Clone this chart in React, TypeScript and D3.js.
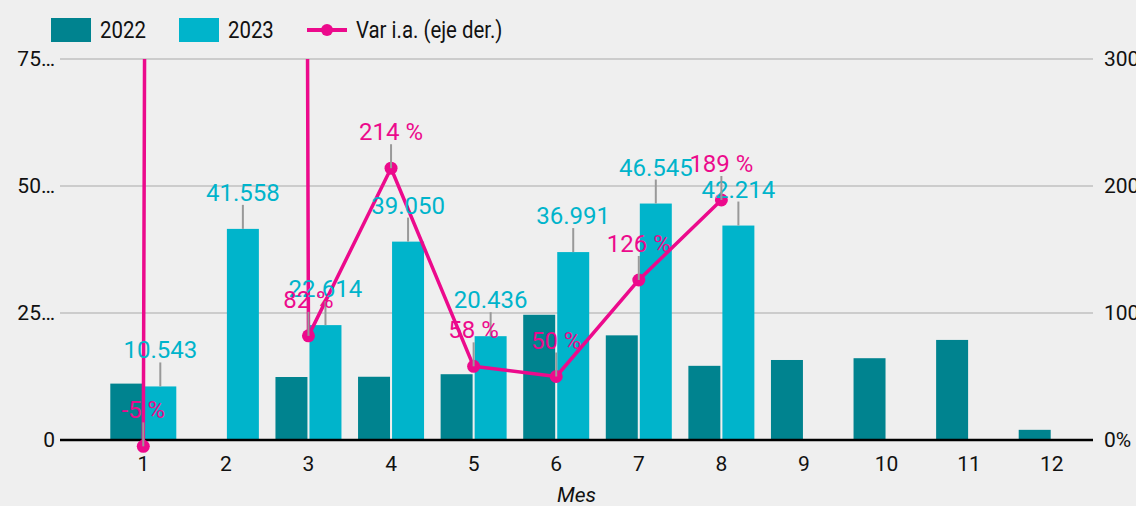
import React from "react";
import * as d3 from "d3";

const months = ["1", "2", "3", "4", "5", "6", "7", "8", "9", "10", "11", "12"];
const values2022: (number | null)[] = [11100, null, 12400, 12450, 12950, 24650, 20600, 14600, 15750, 16100, 19700, 2000];
const values2023: (number | null)[] = [10543, 41558, 22614, 39050, 20436, 36991, 46545, 42214, null, null, null, null];
const varIA: (number | null)[] = [-5, 20000, 82, 214, 58, 50, 126, 189, null, null, null, null];
const leftTicks = [0, 25000, 50000, 75000];
const leftTickLabels = ["0", "25…", "50…", "75…"];
const rightTicks = [0, 100, 200, 300];
const rightTickLabels = ["0%", "100%", "200%", "300%"];
const seriesNames = ["2022", "2023"];

const W = 1136;
const H = 506;
const C2022 = "#00838f";
const C2023 = "#00b4cb";
const CLINE = "#ec0a8c";
const BG = "#efefef";
const FONT = "Roboto, 'Noto Sans', sans-serif";

const locale = d3.formatLocale({ decimal: ",", thousands: ".", grouping: [3], currency: ["", ""] });
const fmt = locale.format(",d");

export default function App() {
  const gridLeft = 60;
  const gridRight = 1093;
  const top = 59;
  const base = 440;

  const x = d3.scaleBand<string>().domain(months).range([102, 1093]).padding(0);
  const sub = d3.scaleBand<string>().domain(seriesNames).range([-33, 33]).paddingInner(0.06);
  const yL = d3.scaleLinear().domain([0, 75000]).range([base, top]);
  const yR = d3.scaleLinear().domain([0, 300]).range([base, top]);
  const cx = (m: string) => (x(m) as number) + x.bandwidth() / 2;

  const linePts: [number, number][] = [];
  varIA.forEach((v, i) => {
    if (v != null) linePts.push([cx(months[i]), yR(v)]);
  });
  const linePath = d3.line()(linePts) || "";

  const bars: React.ReactNode[] = [];
  [values2022, values2023].forEach((arr, si) => {
    arr.forEach((v, i) => {
      if (v == null) return;
      const bx = cx(months[i]) + (sub(seriesNames[si]) as number);
      bars.push(
        <rect key={`b${si}-${i}`} x={bx} y={yL(v)} width={sub.bandwidth()} height={base - yL(v)} fill={si === 0 ? C2022 : C2023} />
      );
    });
  });

  const valueLabels: React.ReactNode[] = [];
  values2023.forEach((v, i) => {
    if (v == null) return;
    const bx = cx(months[i]) + (sub("2023") as number) + sub.bandwidth() / 2;
    const yt = yL(v);
    valueLabels.push(
      <g key={`vl${i}`}>
        <line x1={bx} x2={bx} y1={yt} y2={yt - 24} stroke="#999" strokeWidth={2} />
        <text x={bx} y={yt - 28} textAnchor="middle" fill={C2023} fontSize={24} fontFamily={FONT}>
          {fmt(v)}
        </text>
      </g>
    );
  });

  const varLabels: React.ReactNode[] = [];
  varIA.forEach((v, i) => {
    if (v == null) return;
    const px = cx(months[i]);
    const py = yR(v);
    varLabels.push(
      <g key={`vr${i}`}>
        <line x1={px} x2={px} y1={py} y2={py - 24} stroke="#999" strokeWidth={2} />
        <text x={px} y={py - 28} textAnchor="middle" fill={CLINE} fontSize={24} fontFamily={FONT}>
          {`${v} %`}
        </text>
      </g>
    );
  });

  return (
    <svg width={W} height={H} style={{ position: "absolute", left: 0, top: 0, display: "block" }}>
      <defs>
        <clipPath id="plotClip">
          <rect x={0} y={top} width={W} height={H - top} />
        </clipPath>
      </defs>
      <rect x={0} y={0} width={W} height={H} fill={BG} />

      {/* legend */}
      <g fontFamily={FONT} fontSize={24} fill="#111">
        <rect x={51} y={18} width={40} height={24} fill={C2022} />
        <text x={100} y={38} transform="translate(100,0) scale(0.85,1) translate(-100,0)">2022</text>
        <rect x={179} y={18} width={40} height={24} fill={C2023} />
        <text x={228} y={38} transform="translate(228,0) scale(0.85,1) translate(-228,0)">2023</text>
        <line x1={307} x2={347} y1={30} y2={30} stroke={CLINE} strokeWidth={4} />
        <circle cx={327} cy={30} r={6} fill={CLINE} />
        <text x={356} y={38} transform="translate(356,0) scale(0.85,1) translate(-356,0)">Var i.a. (eje der.)</text>
      </g>

      {/* grid */}
      {leftTicks.map((t, i) =>
        i === 0 ? null : (
          <line key={`g${i}`} x1={gridLeft} x2={gridRight} y1={yL(t)} y2={yL(t)} stroke="#cccccc" strokeWidth={2} />
        )
      )}
      {leftTicks.map((t, i) => (
        <text key={`lt${i}`} x={55} y={yL(t)} dy="0.35em" textAnchor="end" fontSize={21} fontFamily={FONT} fill="#111">
          {leftTickLabels[i]}
        </text>
      ))}
      {rightTicks.map((t, i) => (
        <text key={`rt${i}`} x={1104} y={yR(t)} dy="0.35em" textAnchor="start" fontSize={21} fontFamily={FONT} fill="#111">
          {rightTickLabels[i]}
        </text>
      ))}

      {bars}
      <line x1={gridLeft} x2={gridRight} y1={base} y2={base} stroke="#000" strokeWidth={2.5} />

      {months.map((m) => (
        <text key={`xl${m}`} x={cx(m)} y={471} textAnchor="middle" fontSize={21} fontFamily={FONT} fill="#111">
          {m}
        </text>
      ))}
      <text x={(gridLeft + gridRight) / 2} y={502} textAnchor="middle" fontSize={21} fontStyle="italic" fontFamily={FONT} fill="#111">
        Mes
      </text>

      <g clipPath="url(#plotClip)">
        <path d={linePath} fill="none" stroke={CLINE} strokeWidth={3.5} strokeLinejoin="round" />
        {linePts.map((p, i) => (
          <circle key={`p${i}`} cx={p[0]} cy={p[1]} r={6.5} fill={CLINE} />
        ))}
        {valueLabels}
        {varLabels}
      </g>
    </svg>
  );
}
